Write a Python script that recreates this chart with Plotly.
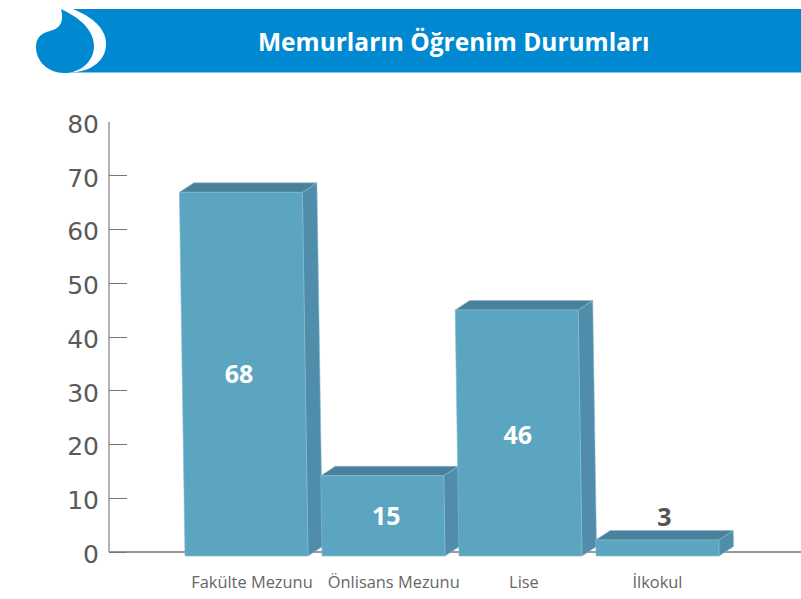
import plotly.graph_objects as go

# --- data ---
categories = ["Fakülte Mezunu", "Önlisans Mezunu", "Lise", "İlkokul"]
values = [68, 15, 46, 3]
y_ticks = [0, 10, 20, 30, 40, 50, 60, 70, 80]
title = "Memurların Öğrenim Durumları"

# --- canvas ---
W, H = 801, 599
PX_X0, PX_X1 = 109, 801          # plot left / right
PX_Y80, PX_Y0 = 122, 552         # pixel rows of 80 and 0
PX_PER_Y = (PX_Y0 - PX_Y80) / 80
PX_PER_X = 137.0
CENTER0 = 246.5                  # pixel of first bar foot centre
Y_MIN = -1.5
PX_BOTTOM = PX_Y0 - Y_MIN * PX_PER_Y

# --- 3D look (in axis units) ---
HALF = 61.5 / PX_PER_X
DX, DY = 14.5 / PX_PER_X, 9.5 / PX_PER_Y
FOOT = -4 / PX_PER_Y
Y_SCALE = 0.995
LEAN = 0.0825 / PX_PER_X         # foot-to-top lean per value unit
FRONT, TOP, SIDE = "#5CA5C1", "#4A809C", "#4F8DAA"
EDGE = "#86BBD0"

px = lambda x: x / W
py = lambda y: 1 - y / H

fig = go.Figure()


def poly(xs, ys, color):
    fig.add_trace(go.Scatter(
        x=xs + xs[:1], y=ys + ys[:1], mode="lines", fill="toself", fillcolor=color,
        line=dict(color=EDGE, width=0.6), hoverinfo="skip", showlegend=False))


for i, v in enumerate(values):
    top = FOOT + v * Y_SCALE
    s = LEAN * v
    l0, r0 = i - HALF, i + HALF
    l1, r1 = l0 - s, r0 - s
    # side face, top face, front face
    poly([r1, r1 + DX, r0 + DX, r0], [top, top + DY, FOOT + DY, FOOT], SIDE)
    poly([l1, l1 + DX, r1 + DX, r1], [top, top + DY, top + DY, top], TOP)
    poly([l1, r1, r0, l0], [top, top, FOOT, FOOT], FRONT)

# value labels
label_nudge = [-0.055, 0.02, -0.02, 0.05]
label_y = [32.55, 6.25, 21.25, 5.95]
label_colors = ["white", "white", "white", "#555555"]
fig.add_trace(go.Scatter(
    x=[i + d for i, d in enumerate(label_nudge)], y=label_y, mode="text",
    text=[str(v) for v in values],
    textposition="middle center",
    textfont=dict(family="Open Sans", size=25, color=label_colors, weight="bold"),
    hoverinfo="skip", showlegend=False))

# banner and logo, given in pixels and converted to paper fractions


def path(cmds):
    out = []
    for c in cmds:
        if isinstance(c, str):
            out.append(c)
        else:
            out.append(f"{px(c[0]):.5f},{py(c[1]):.5f}")
    return " ".join(out)


BLUE = "#0089D0"
shapes = [
    dict(type="path", xref="paper", yref="paper", line_width=0, fillcolor=BLUE, layer="below",
         path=path(["M", (73, 9), "L", (801, 9), "L", (801, 72.5), "L", (66, 72.5), "Z"])),
    dict(type="path", xref="paper", yref="paper", line_width=0, fillcolor="white", layer="below",
         path=path(["M", (61, 9), "L", (73, 9), "C", (92, 17), (106, 28), (106, 44),
                    "C", (106, 60), (92, 72), (70, 72.5), "Z"])),
    dict(type="path", xref="paper", yref="paper", line_width=0, fillcolor=BLUE, layer="below",
         path=path(["M", (61, 9), "C", (80, 18), (94, 30), (94, 46),
                    "C", (94, 62), (80, 73), (64, 73),
                    "C", (48, 73), (36, 61), (36, 47),
                    "C", (36, 36), (43, 33), (50, 31),
                    "C", (58, 29), (65, 24), (61, 9), "Z"])),
    # y axis line, from 0 to 80 only
    dict(type="line", xref="paper", yref="paper", x0=px(PX_X0), x1=px(PX_X0),
         y0=py(PX_Y0), y1=py(PX_Y80), line=dict(color="#666666", width=1), layer="below"),
]

annotations = [dict(
    text=title, xref="paper", yref="paper", x=px(454), y=py(42), showarrow=False,
    xanchor="center", yanchor="middle",
    font=dict(family="Open Sans", size=24.5, color="white", weight="bold"))]

# tick labels sit a little off the bar centres, as in the picture
tick_pos = [0.04, 0.075, 0.025, 0.0]

fig.update_layout(
    width=W, height=H, margin=dict(l=0, r=0, t=0, b=0, autoexpand=False),
    plot_bgcolor="white", paper_bgcolor="white", showlegend=False,
    shapes=shapes, annotations=annotations,
    xaxis=dict(
        domain=[px(PX_X0), 1],
        range=[(PX_X0 - CENTER0) / PX_PER_X, (PX_X1 - CENTER0) / PX_PER_X],
        tickmode="array", tickvals=[i + d for i, d in enumerate(tick_pos)], ticktext=categories,
        showgrid=False, zeroline=False, showline=False, ticks="",
        ticklabelstandoff=11,
        tickfont=dict(family="Open Sans", size=16.4, color="#666666")),
    yaxis=dict(
        domain=[py(PX_BOTTOM), py(PX_Y80)],
        range=[Y_MIN, 80],
        tickmode="array", tickvals=y_ticks,
        showgrid=False, showline=False,
        zeroline=True, zerolinecolor="#999999", zerolinewidth=2,
        ticks="inside", ticklen=18, tickwidth=1, tickcolor="#777777",
        ticklabelstandoff=9, ticklabelshift=2,
        tickfont=dict(family="DejaVu Sans", size=25, color="#5a5a5a")),
)

fig.write_html("out.html", config=dict(displayModeBar=False),
               post_script="document.body.style.margin='0';document.body.style.overflow='hidden';")
